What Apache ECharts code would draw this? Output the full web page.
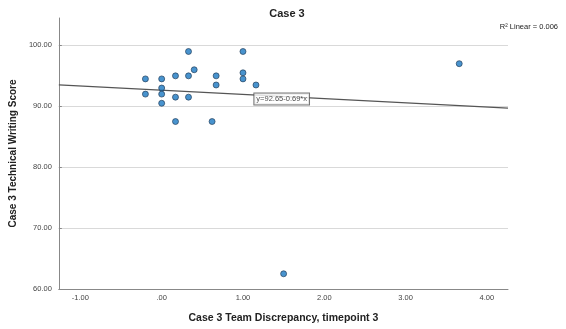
<!DOCTYPE html>
<html><head><meta charset="utf-8">
<script src="https://cdn.jsdelivr.net/npm/echarts@6/dist/echarts.min.js"></script>
<style>html,body{margin:0;padding:0;background:#fff}#c{width:566px;height:329px}</style>
</head><body><div id="c"></div>
<script>
// Data
const discrepancy = [-0.2, -0.2, 0, 0, 0, 0, 0.17, 0.17, 0.17, 0.33, 0.33, 0.33, 0.4, 0.62, 0.67, 0.67, 1, 1, 1, 1.16, 1.5, 3.66];
const writingScore = [94.5, 92, 94.5, 93, 92, 90.5, 95, 91.5, 87.5, 99, 95, 91.5, 96, 87.5, 95, 93.5, 99, 95.5, 94.5, 93.5, 62.5, 97];
const fitIntercept = 92.65;
const fitSlope = -0.69;
const fitLabelX = 1.14;
const titleText = 'Case 3';
const r2Text = 'R² Linear = 0.006';
const xTitle = 'Case 3 Team Discrepancy, timepoint 3';
const yTitle = 'Case 3 Technical Writing Score';
const xRange = [-1.265, 4.26];
const yRange = [60, 104.5];

const points = discrepancy.map((x, i) => [x, writingScore[i]]);
const fit = x => fitIntercept + fitSlope * x;
const fitLine = [[xRange[0], fit(xRange[0])], [xRange[1], fit(xRange[1])]];
const eqText = 'y=' + fitIntercept.toFixed(2) + (fitSlope < 0 ? '-' : '+') + Math.abs(fitSlope).toFixed(2) + '*x';

const FONT = 'Liberation Sans, Arial, sans-serif';
const chart = echarts.init(document.getElementById('c'), null, {renderer: 'canvas'});
chart.setOption({
  animation: false,
  backgroundColor: '#fff',
  title: [
    {text: titleText, left: 282, top: 3, textAlign: 'center',
     textStyle: {fontFamily: FONT, fontSize: 11, fontWeight: 'bold', color: '#222'}},
    {text: r2Text, right: 3, top: 18,
     textStyle: {fontFamily: FONT, fontSize: 7.5, fontWeight: 'normal', color: '#222'}}
  ],
  grid: {left: 56, right: 58, top: 18, bottom: 38, containLabel: false},
  xAxis: {
    type: 'value', min: xRange[0], max: xRange[1], splitNumber: 5,
    name: xTitle, nameLocation: 'middle', nameGap: 24,
    nameTextStyle: {fontFamily: FONT, fontSize: 10.5, fontWeight: 'bold', color: '#222'},
    axisLine: {show: true, onZero: false, lineStyle: {color: '#888', width: 1}},
    axisTick: {show: false},
    splitLine: {show: false},
    axisLabel: {
      showMinLabel: false, showMaxLabel: false, margin: 5,
      fontFamily: FONT, fontSize: 7.5, color: '#444',
      formatter: v => Math.abs(v - Math.round(v)) > 1e-6 ? '' : (Math.round(v) === 0 ? '.00' : v.toFixed(2))
    }
  },
  yAxis: {
    type: 'value', min: yRange[0], max: yRange[1], splitNumber: 5,
    name: yTitle, nameLocation: 'middle', nameGap: 39,
    nameTextStyle: {fontFamily: FONT, fontSize: 10, fontWeight: 'bold', color: '#222'},
    axisLine: {show: true, onZero: false, lineStyle: {color: '#888', width: 1}},
    axisTick: {show: true, inside: true, length: 3, lineStyle: {color: '#888'}},
    splitLine: {show: true, showMaxLine: false, lineStyle: {color: '#d9d9d9', width: 1.2}},
    axisLabel: {
      showMaxLabel: false, margin: 7,
      fontFamily: FONT, fontSize: 7.5, color: '#444',
      formatter: v => Math.abs(v - Math.round(v)) > 1e-6 ? '' : v.toFixed(2)
    }
  },
  series: [
    {
      type: 'line', data: fitLine, symbol: 'none', silent: true, z: 2,
      lineStyle: {color: '#555', width: 1.2}
    },
    {
      type: 'scatter', data: [[fitLabelX, fit(fitLabelX)]], symbolSize: 0, silent: true, z: 4,
      label: {
        show: true, position: 'right', distance: 0, offset: [0, 4],
        formatter: eqText, fontFamily: FONT, fontSize: 7.5, color: '#222',
        backgroundColor: '#fff', borderColor: '#555', borderWidth: 1, padding: [2, 2, 1, 2]
      }
    },
    {
      type: 'scatter', data: points, symbol: 'circle', symbolSize: 6, z: 3,
      itemStyle: {color: '#1a78c2', borderColor: '#1d3550', borderWidth: 0.8}
    }
  ]
});
</script></body></html>
